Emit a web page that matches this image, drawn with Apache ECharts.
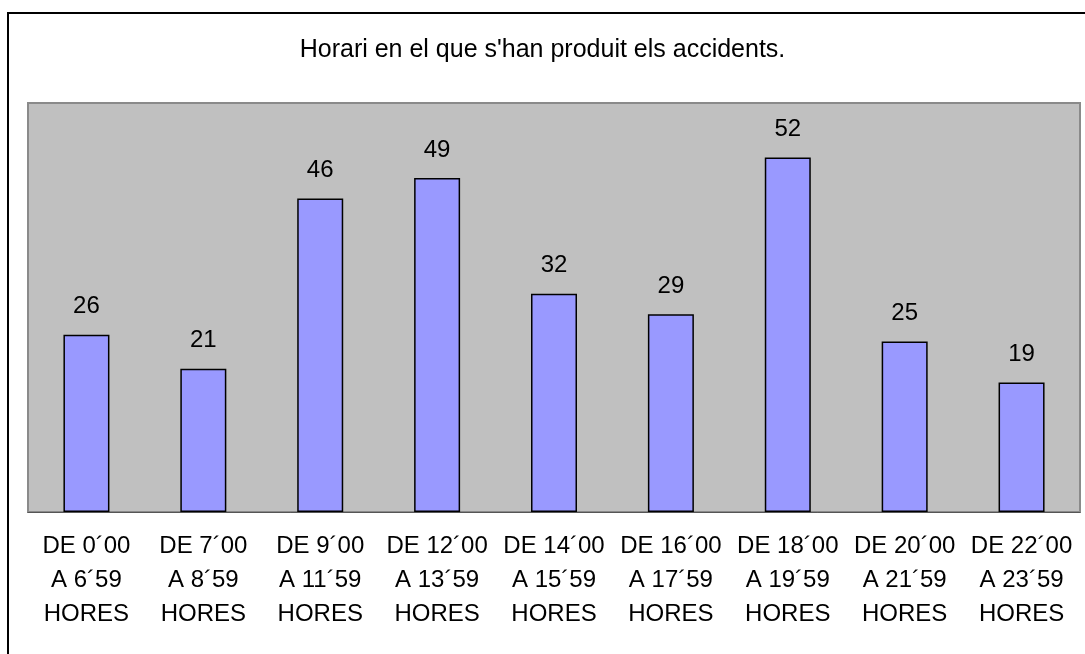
<!DOCTYPE html>
<html>
<head>
<meta charset="utf-8">
<script src="https://cdn.jsdelivr.net/npm/echarts@6/dist/echarts.min.js"></script>
<style>
  html, body { margin: 0; padding: 0; background: #fff; }
  #main { width: 1085px; height: 654px; }
</style>
</head>
<body>
<div id="main"></div>
<script>
// franges horàries i nombre d'accidents
const franges = [
  'DE 0´00\nA 6´59\nHORES',
  'DE 7´00\nA 8´59\nHORES',
  'DE 9´00\nA 11´59\nHORES',
  'DE 12´00\nA 13´59\nHORES',
  'DE 14´00\nA 15´59\nHORES',
  'DE 16´00\nA 17´59\nHORES',
  'DE 18´00\nA 19´59\nHORES',
  'DE 20´00\nA 21´59\nHORES',
  'DE 22´00\nA 23´59\nHORES'
]
const accidents = [26, 21, 46, 49, 32, 29, 52, 25, 19]

const font = 'Liberation Sans, Arial, sans-serif'

var myChart = echarts.init(document.getElementById('main'))

var option = {
  animation: false,
  title: {
    text: "Horari en el que s'han produit els accidents.",
    left: 'center',
    top: 33,
    textStyle: { fontFamily: font, fontSize: 25, fontWeight: 'normal', color: '#000' }
  },
  graphic: [
    {
      type: 'rect',
      shape: { x: 8, y: 13, width: 1200, height: 800 },
      style: { fill: 'none', stroke: '#000', lineWidth: 2 },
      silent: true
    }
  ],
  grid: {
    left: 28,
    right: 5,
    top: 103,
    bottom: 142,
    show: true,
    backgroundColor: '#C0C0C0',
    borderColor: '#8a8a8a',
    borderWidth: 2
  },
  xAxis: {
    type: 'category',
    data: franges,
    axisLine: { lineStyle: { color: '#555', width: 1 } },
    axisTick: { length: 8, lineStyle: { color: '#808080' } },
    axisLabel: {
      interval: 0,
      margin: 17,
      fontFamily: font,
      fontSize: 24,
      lineHeight: 34,
      color: '#000'
    }
  },
  yAxis: {
    type: 'value',
    min: 0,
    max: 60,
    show: false,
    splitLine: { show: false }
  },
  series: [
    {
      type: 'bar',
      data: accidents,
      barWidth: 46,
      itemStyle: { color: '#9999FF', borderColor: '#000', borderWidth: 1.5 },
      label: {
        show: true,
        position: 'top',
        distance: 16,
        fontFamily: font,
        fontSize: 24,
        color: '#000'
      }
    }
  ]
}

myChart.setOption(option)
window.onresize = function () {
  myChart.resize()
}
</script>
</body>
</html>
